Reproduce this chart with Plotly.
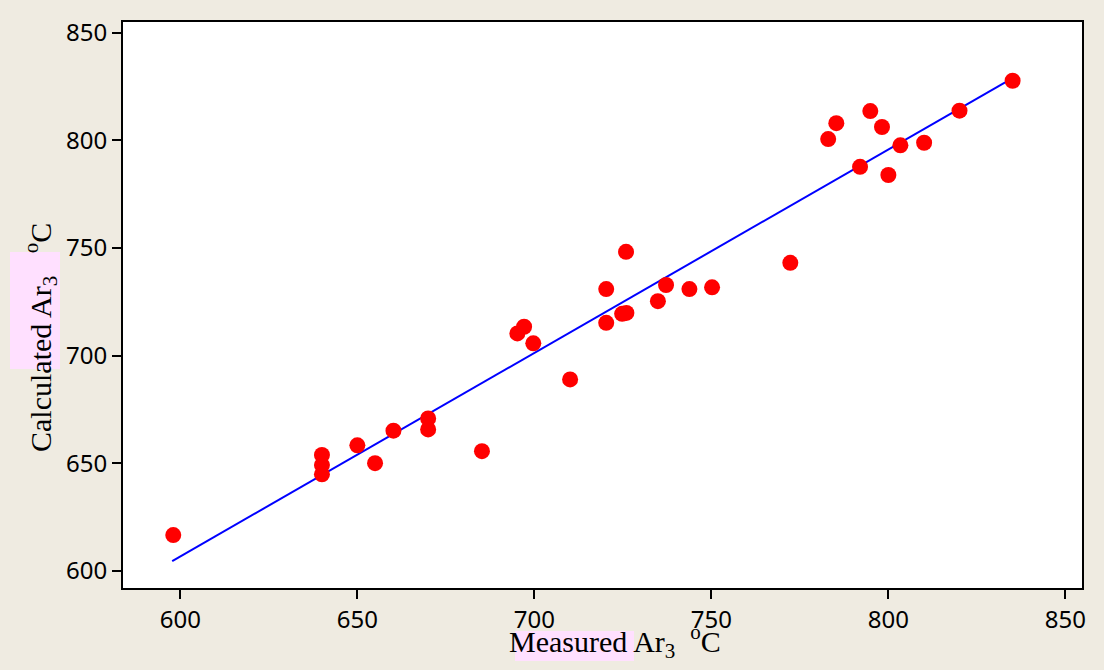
import plotly.graph_objects as go

measured = [598.0, 640.0, 640.0, 640.0, 650.0, 655.0, 660.2, 670.0, 670.0, 685.2,
            695.2, 697.1, 699.7, 710.1, 720.3, 720.3, 725.9, 724.8, 726.0, 734.9,
            737.2, 743.8, 750.2, 772.3, 783.0, 785.3, 794.9, 798.2, 792.0, 800.0,
            803.4, 810.1, 820.1, 835.1]
calculated = [616.6, 653.8, 649.1, 644.8, 658.3, 650.0, 665.1, 670.8, 665.7, 655.6,
              710.3, 713.4, 705.7, 688.9, 730.9, 715.2, 748.2, 719.4, 719.8, 725.3,
              732.8, 730.9, 731.7, 743.1, 800.6, 808.0, 813.6, 806.2, 787.7, 783.9,
              797.7, 798.9, 813.8, 827.7]

fit_x = [597.7, 833.0]
fit_y = [604.5, 827.0]

x_ticks = [600, 650, 700, 750, 800, 850]
y_ticks = [600, 650, 700, 750, 800, 850]

x_title = "Measured Ar<sub>3</sub>&nbsp;&nbsp;<sup>o</sup>C"
y_title = "Calculated Ar<sub>3</sub>&nbsp;&nbsp;&nbsp;<sup>o</sup>C"

bg = "#EFEBE1"
W, H = 1104, 670
L, R, T, B = 123, 22, 22, 82
PW, PH = W - L - R, H - T - B


def px_x(p):
    return (p - L) / PW


def px_y(p):
    return (H - B - p) / PH


fig = go.Figure()
fig.add_trace(go.Scatter(x=fit_x, y=fit_y, mode="lines",
                         line=dict(color="#0000FF", width=2), showlegend=False))
fig.add_trace(go.Scatter(x=measured, y=calculated, mode="markers",
                         marker=dict(color="#FF0000", size=16, line=dict(width=0)),
                         showlegend=False))

axis_common = dict(showline=True, linecolor="black", linewidth=2, mirror=True,
                   ticks="outside", ticklen=9, tickwidth=1.5, tickcolor="black",
                   showgrid=False, zeroline=False,
                   tickfont=dict(family="Noto Sans", size=24, color="black"))

fig.update_xaxes(range=[583.8, 854.7], tickvals=x_ticks, **axis_common)
fig.update_yaxes(range=[592, 855], tickvals=y_ticks, **axis_common)

title_font = dict(family="Liberation Serif", size=30, color="black")

fig.update_layout(
    width=W, height=H,
    margin=dict(l=L, r=R, t=T, b=B),
    paper_bgcolor=bg, plot_bgcolor="white",
    shapes=[
        dict(type="rect", xref="paper", yref="paper", layer="below",
             x0=px_x(10), x1=px_x(60), y0=px_y(369), y1=px_y(252),
             fillcolor="#FFE0FF", line=dict(width=0)),
        dict(type="rect", xref="paper", yref="paper", layer="below",
             x0=px_x(515), x1=px_x(634), y0=px_y(661), y1=px_y(631),
             fillcolor="#FFE0FF", line=dict(width=0)),
    ],
    annotations=[
        dict(text=x_title, xref="paper", yref="paper", x=px_x(615), y=px_y(641),
             xanchor="center", yanchor="middle", showarrow=False, font=title_font),
        dict(text=y_title, xref="paper", yref="paper", x=px_x(40), y=px_y(338),
             xanchor="center", yanchor="middle", showarrow=False, font=title_font,
             textangle=-90),
    ],
)

fig.write_html("out.html", config={"displayModeBar": False},
               post_script="document.body.style.margin='0px';")
